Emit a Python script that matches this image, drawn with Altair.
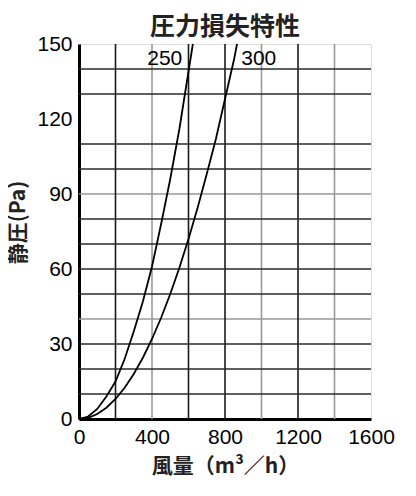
import altair as alt
import pandas as pd

# curve data (flow m3/h, static pressure Pa)
flow_250 = [0, 50, 100, 150, 200, 250, 300, 350, 400, 450, 500, 550, 600, 624]
pa_250 = [0, 1, 4, 9, 15, 24, 35, 47, 61, 78, 96, 116, 139, 150]
flow_300 = [0, 50, 100, 150, 200, 250, 300, 350, 400, 450, 500, 550, 600, 650, 700, 750, 800, 850, 866]
pa_300 = [0, 0.5, 2, 4.5, 8, 12.5, 18, 24.5, 32, 40.5, 50, 60.5, 72, 84.5, 98, 112, 128, 144, 150]

# curve labels
label_text = ["250", "300"]
label_flow = [470, 985]
label_pa = [144, 144]

# ticks and grid
x_ticks = [0, 400, 800, 1200, 1600]
y_ticks = [0, 30, 60, 90, 120, 150]
grid_x_dark = [200, 600, 800, 1200]
grid_x_light = [400, 1000, 1400]
grid_y_dark = [10, 20, 30, 50, 60, 70, 80, 100, 110, 130, 140]
grid_y_light = [40, 90]

FONT = "Liberation Sans, Noto Sans CJK JP"
CJK = "Noto Sans CJK JP"

curves = pd.DataFrame(
    {"flow": flow_250 + flow_300,
     "pa": pa_250 + pa_300,
     "series": ["250"] * len(flow_250) + ["300"] * len(flow_300)}
)
labels_df = pd.DataFrame({"flow": label_flow, "pa": label_pa, "text": label_text})

xscale = alt.Scale(domain=[0, 1600], nice=False, zero=True)
yscale = alt.Scale(domain=[0, 150], nice=False, zero=True)

x_axis = alt.Axis(values=x_ticks, title="風量（m³／h）", grid=False, ticks=False,
                  domain=True, domainColor="#000", domainWidth=3,
                  labelFont=FONT, labelFontSize=21, labelColor="#000", labelPadding=7,
                  labelFlush=False, labelOverlap=False,
                  titleFont=CJK, titleFontSize=21, titleFontWeight="bold",
                  titleColor="#222", titlePadding=8, format="d")
y_axis = alt.Axis(values=y_ticks, title="静圧(Pa)", grid=False, ticks=False,
                  domain=True, domainColor="#000", domainWidth=3,
                  labelFont=FONT, labelFontSize=21, labelColor="#000", labelPadding=7,
                  labelOverlap=False,
                  titleFont=CJK, titleFontSize=21, titleFontWeight="bold",
                  titleColor="#222", titlePadding=8, titleY=178, format="d")

base = alt.Chart(curves).mark_line(stroke="#000", strokeWidth=1.8).encode(
    x=alt.X("flow:Q", scale=xscale, axis=x_axis),
    y=alt.Y("pa:Q", scale=yscale, axis=y_axis),
    detail="series:N",
)

gx_dark = alt.Chart(pd.DataFrame({"v": grid_x_dark})).mark_rule(
    stroke="#1a1a1a", strokeWidth=1.6).encode(x=alt.X("v:Q", scale=xscale))
gx_light = alt.Chart(pd.DataFrame({"v": grid_x_light})).mark_rule(
    stroke="#999", strokeWidth=1.6).encode(x=alt.X("v:Q", scale=xscale))
gy_dark = alt.Chart(pd.DataFrame({"v": grid_y_dark})).mark_rule(
    stroke="#2a2a2a", strokeWidth=1.6).encode(y=alt.Y("v:Q", scale=yscale))
gy_light = alt.Chart(pd.DataFrame({"v": grid_y_light})).mark_rule(
    stroke="#999", strokeWidth=1.6).encode(y=alt.Y("v:Q", scale=yscale))

text = alt.Chart(labels_df).mark_text(
    font=FONT, fontSize=21, color="#000", align="center", baseline="middle"
).encode(x=alt.X("flow:Q", scale=xscale), y=alt.Y("pa:Q", scale=yscale), text="text:N")

chart = alt.layer(gx_light, gy_light, gx_dark, gy_dark, base, text).properties(
    width=292,
    height=375,
    title=alt.TitleParams("圧力損失特性", font=CJK, fontSize=25, fontWeight="bold",
                          color="#222", anchor="middle", offset=-7),
    autosize=alt.AutoSizeParams(type="none"),
    padding={"left": 71, "top": 36, "right": 30, "bottom": 60},
).configure_view(stroke="#000", strokeWidth=2).configure(background="white")

chart.save("out.html", embed_options={"renderer": "svg", "actions": False})
